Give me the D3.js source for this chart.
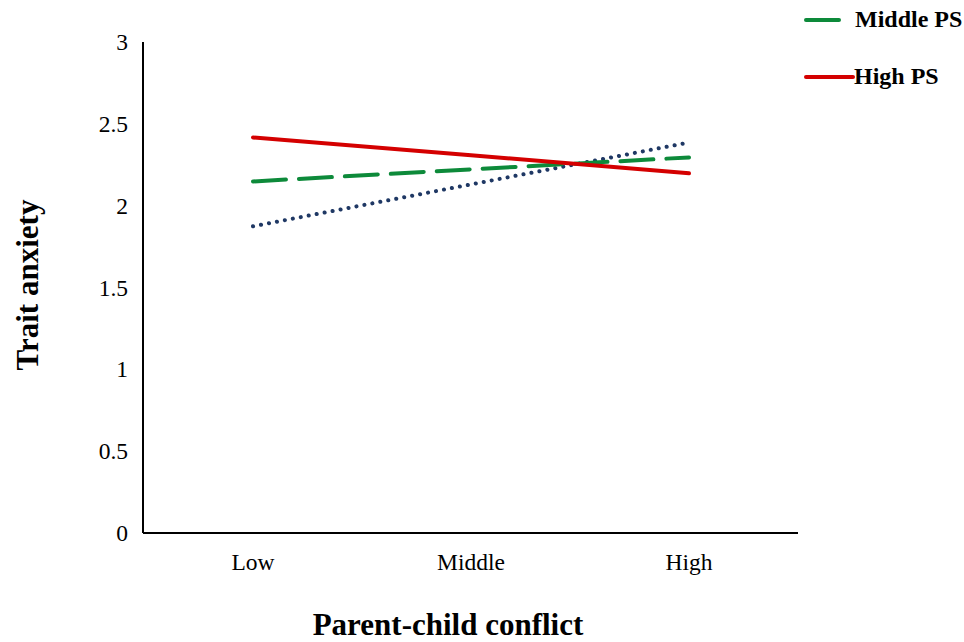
<!DOCTYPE html>
<html><head><meta charset="utf-8">
<script src="https://cdn.jsdelivr.net/npm/d3@7/dist/d3.min.js"></script>
<style>body{margin:0;background:#fff}svg{display:block}</style>
</head><body>
<script>
const categories = ["Low", "Middle", "High"];
const seriesNames = ["Low PS", "Middle PS", "High PS"];
const lowPS = [1.874, 2.13, 2.386];
const middlePS = [2.148, 2.222, 2.295];
const highPS = [2.417, 2.308, 2.198];
const yTicks = [0, 0.5, 1, 1.5, 2, 2.5, 3];

const W = 964, H = 642;
const svg = d3.select("body").append("svg").attr("width", W).attr("height", H);
const font = "'Liberation Serif','Times New Roman',serif";

const x = d3.scalePoint().domain(categories).range([253, 689]);
const y = d3.scaleLinear().domain([0, 3]).range([533, 42]);

// axes lines
svg.append("line").attr("x1", 143).attr("x2", 143).attr("y1", y(3)).attr("y2", y(0))
  .attr("stroke", "#000").attr("stroke-width", 2);
svg.append("line").attr("x1", 143).attr("x2", 798).attr("y1", y(0)).attr("y2", y(0))
  .attr("stroke", "#000").attr("stroke-width", 2);

// y tick labels
svg.selectAll(".yt").data(yTicks).enter().append("text")
  .attr("x", 128).attr("y", d => y(d) + 8).attr("text-anchor", "end")
  .attr("font-family", font).attr("font-size", 23.5).text(d => d);

// x tick labels
svg.selectAll(".xt").data(categories).enter().append("text")
  .attr("x", d => x(d)).attr("y", 570).attr("text-anchor", "middle")
  .attr("font-family", font).attr("font-size", 23.5).text(d => d);

// axis titles
svg.append("text").attr("x", 448).attr("y", 635).attr("text-anchor", "middle")
  .attr("font-family", font).attr("font-weight", "bold").attr("font-size", 31)
  .text("Parent-child conflict");
svg.append("text").attr("transform", "translate(38,285) rotate(-90)").attr("text-anchor", "middle")
  .attr("font-family", font).attr("font-weight", "bold").attr("font-size", 31)
  .text("Trait anxiety");

const styles = [
  {data: lowPS, color: "#1f3864", width: 4, dash: "0.1,8", cap: "round"},
  {data: middlePS, color: "#0d8a3a", width: 4, dash: "33,13", cap: "round"},
  {data: highPS, color: "#d40000", width: 4, dash: null, cap: "round"}
];
const line = d3.line().x((d, i) => x(categories[i])).y(d => y(d));
styles.forEach(s => {
  svg.append("path").attr("d", line(s.data)).attr("fill", "none")
    .attr("stroke", s.color).attr("stroke-width", s.width)
    .attr("stroke-dasharray", s.dash).attr("stroke-linecap", s.cap);
});

// legend (the "Low PS" entry lies above the visible area in the reference)
const legY = {"Middle PS": 20, "High PS": 77};
seriesNames.forEach((n, i) => {
  if (!(n in legY)) return;
  const s = styles[i];
  const x2 = i === 2 ? 853 : 839;
  svg.append("line").attr("x1", 806).attr("x2", x2).attr("y1", legY[n]).attr("y2", legY[n])
    .attr("stroke", s.color).attr("stroke-width", s.width).attr("stroke-linecap", "round");
  svg.append("text").attr("x", i === 2 ? 854 : 855).attr("y", legY[n] + 6.5)
    .attr("font-family", font).attr("font-weight", "bold").attr("font-size", 24).text(n);
});
</script>
</body></html>
